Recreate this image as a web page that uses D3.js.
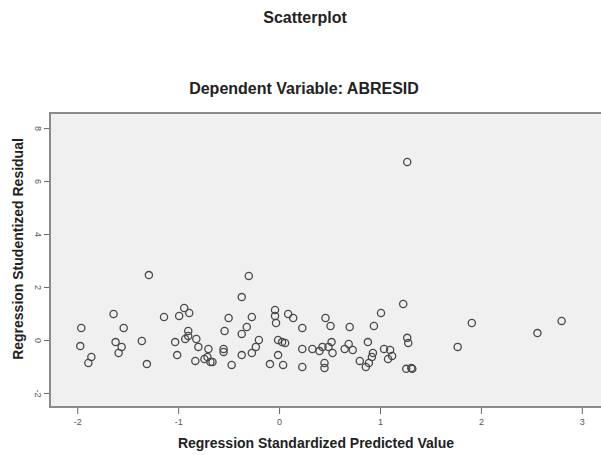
<!DOCTYPE html>
<html>
<head>
<meta charset="utf-8">
<script src="https://cdn.jsdelivr.net/npm/d3@7"></script>
<style>
body { margin: 0; background: #fff; }
text { font-family: "Liberation Sans", Arial, sans-serif; }
</style>
</head>
<body>
<svg width="601" height="455"></svg>
<script>
// predicted (x) and studentized residual (y)
var predicted = [-1.96,-1.97,-1.86,-1.89,-1.64,-1.54,-1.62,-1.56,-1.59,-1.36,-1.31,-1.29,-1.14,-0.94,-0.99,-0.89,-1.03,-1.01,-0.90,-0.90,
	-0.93,-0.82,-0.80,-0.70,-0.83,-0.74,-0.71,-0.68,-0.66,-0.50,-0.54,-0.55,-0.55,-0.47,-0.37,-0.30,-0.27,-0.32,-0.37,-0.20,
	-0.23,-0.27,-0.37,-0.04,-0.04,-0.03,0.09,0.14,0.23,-0.01,0.03,0.06,-0.01,-0.09,0.04,0.23,0.23,0.33,0.40,0.43,
	0.49,0.52,0.53,0.45,0.45,0.46,0.51,0.70,0.65,0.69,0.73,0.88,0.80,0.86,0.89,0.93,0.92,0.94,1.01,1.04,
	1.10,1.12,1.08,1.23,1.27,1.28,1.26,1.31,1.32,1.27,1.77,1.91,2.56,2.80];
var residual = [0.45,-0.23,-0.64,-0.87,0.98,0.45,-0.08,-0.26,-0.49,-0.04,-0.91,2.45,0.87,1.21,0.91,1.02,-0.08,-0.57,0.34,0.15,
	0.04,0.04,-0.26,-0.34,-0.79,-0.72,-0.64,-0.83,-0.83,0.83,0.34,-0.34,-0.45,-0.94,1.62,2.42,0.87,0.49,0.23,0.0,
	-0.26,-0.49,-0.57,1.13,0.91,0.64,0.98,0.83,0.45,0.0,-0.08,-0.11,-0.57,-0.91,-0.94,-0.34,-1.02,-0.34,-0.42,-0.26,
	-0.26,-0.08,-0.49,-0.87,-1.06,0.83,0.53,0.49,-0.34,-0.15,-0.38,-0.08,-0.79,-1.02,-0.87,-0.49,-0.64,0.53,1.02,-0.34,
	-0.38,-0.60,-0.72,1.36,0.08,-0.11,-1.09,-1.06,-1.09,6.72,-0.26,0.64,0.26,0.72];
var xTicks = [-2,-1,0,1,2,3];
var yTicks = [-2,0,2,4,6,8];

var svg = d3.select("svg");
var plotLeft = 50, plotRight = 602, plotTop = 113, plotBottom = 407;

var x = d3.scaleLinear().domain([-2.27, 3.2]).range([plotLeft, plotRight]);
var y = d3.scaleLinear().domain([-2.53, 8.57]).range([plotBottom, plotTop]);

svg.append("text")
	.attr("x", 305).attr("y", 23)
	.attr("text-anchor", "middle")
	.style("font-size", "16px").style("font-weight", "bold").style("fill", "#222")
	.text("Scatterplot");

svg.append("text")
	.attr("x", 304).attr("y", 94)
	.attr("text-anchor", "middle")
	.style("font-size", "16px").style("font-weight", "bold").style("fill", "#222")
	.text("Dependent Variable: ABRESID");

svg.append("rect")
	.attr("x", plotLeft).attr("y", plotTop)
	.attr("width", plotRight - plotLeft).attr("height", plotBottom - plotTop)
	.style("fill", "#f0f0f0")
	.style("stroke", "#8a8a8a").style("stroke-width", 2);

var xAxis = svg.append("g")
	.attr("transform", "translate(0," + (plotBottom + 1) + ")")
	.call(d3.axisBottom(x).tickValues(xTicks).tickSize(6).tickPadding(5).tickFormat(function(d) { return "" + d; }));
xAxis.select(".domain").remove();
xAxis.selectAll("line").style("stroke", "#666");
xAxis.selectAll("text").style("font-size", "9px").style("fill", "#555")
	.style("font-family", "Liberation Sans, Arial, sans-serif");

var yAxis = svg.append("g")
	.attr("transform", "translate(" + (plotLeft - 1) + ",0)")
	.call(d3.axisLeft(y).tickValues(yTicks).tickSize(5).tickPadding(3).tickFormat(function(d) { return "" + d; }));
yAxis.select(".domain").remove();
yAxis.selectAll("line").style("stroke", "#666");
yAxis.selectAll("text")
	.style("font-size", "9px").style("fill", "#555")
	.style("font-family", "Liberation Sans, Arial, sans-serif")
	.attr("text-anchor", "middle")
	.attr("x", 0).attr("y", 0).attr("dy", "0.32em")
	.attr("transform", "translate(-11,0) rotate(90)");

svg.append("text")
	.attr("x", 316).attr("y", 448)
	.attr("text-anchor", "middle")
	.style("font-size", "14px").style("font-weight", "bold").style("fill", "#222")
	.text("Regression Standardized Predicted Value");

svg.append("text")
	.attr("transform", "translate(23,249) rotate(-90)")
	.attr("text-anchor", "middle")
	.style("font-size", "14px").style("font-weight", "bold").style("fill", "#222")
	.text("Regression Studentized Residual");

svg.append("g")
	.selectAll("circle")
	.data(d3.range(predicted.length))
	.enter().append("circle")
	.attr("cx", function(i) { return x(predicted[i]); })
	.attr("cy", function(i) { return y(residual[i]); })
	.attr("r", 3.6)
	.style("fill", "none")
	.style("stroke", "#4a4a4a")
	.style("stroke-width", 1.3);
</script>
</body>
</html>
